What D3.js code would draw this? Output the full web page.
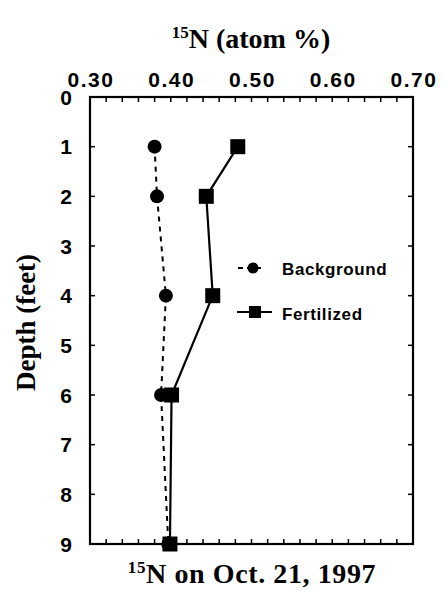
<!DOCTYPE html>
<html>
<head>
<meta charset="utf-8">
<script src="https://cdn.jsdelivr.net/npm/d3@7"></script>
<style>
  body { margin: 0; background: #fff; }
</style>
</head>
<body>
<script>
// depths in feet, 15N atom %
const depths = [1, 2, 4, 6, 9];
const background = [0.380, 0.383, 0.394, 0.388, 0.397];
const fertilized = [0.483, 0.444, 0.452, 0.401, 0.399];
const xTicks = [0.30, 0.40, 0.50, 0.60, 0.70];
const yTicks = [0, 1, 2, 3, 4, 5, 6, 7, 8, 9];

const w = 445, h = 597;
const pLeft = 90, pRight = 413, pTop = 97, pBottom = 544;

const svg = d3.select("body").append("svg").attr("width", w).attr("height", h);

const x = d3.scaleLinear().domain([0.30, 0.70]).range([pLeft, pRight]);
const y = d3.scaleLinear().domain([0, 9]).range([pTop, pBottom]);

// minor ticks on x (every 0.02), inside, top and bottom
const minor = d3.range(0, 21).map(i => 0.30 + i * 0.02);
const tickLayer = svg.append("g").attr("stroke", "#000").attr("stroke-width", 1.5);
minor.forEach(v => {
  tickLayer.append("line").attr("x1", x(v)).attr("x2", x(v)).attr("y1", pTop).attr("y2", pTop + 5);
  tickLayer.append("line").attr("x1", x(v)).attr("x2", x(v)).attr("y1", pBottom).attr("y2", pBottom - 5);
});
yTicks.forEach(v => {
  tickLayer.append("line").attr("x1", pLeft).attr("x2", pLeft + 5).attr("y1", y(v)).attr("y2", y(v));
  tickLayer.append("line").attr("x1", pRight).attr("x2", pRight - 5).attr("y1", y(v)).attr("y2", y(v));
});

svg.append("rect")
  .attr("x", pLeft).attr("y", pTop)
  .attr("width", pRight - pLeft).attr("height", pBottom - pTop)
  .attr("fill", "none").attr("stroke", "#000").attr("stroke-width", 2.2);

// tick labels
const sans = "Liberation Sans, Arial, sans-serif";
svg.append("g").selectAll("text").data(xTicks).enter().append("text")
  .attr("x", d => x(d) + 1).attr("y", 87)
  .attr("text-anchor", "middle")
  .style("font-family", sans).style("letter-spacing", "1.5px")
  .style("font-weight", "bold").style("font-size", "21px")
  .text(d => d.toFixed(2));

svg.append("g").selectAll("text").data(yTicks).enter().append("text")
  .attr("x", 72).attr("y", d => y(d) + 7.5)
  .attr("text-anchor", "end")
  .style("font-family", sans)
  .style("font-weight", "bold").style("font-size", "21px")
  .text(d => d);

// titles
const serif = "Liberation Serif, Times New Roman, serif";
const t1 = svg.append("text").attr("x", 251).attr("y", 48).attr("text-anchor", "middle")
  .style("font-family", serif).style("font-weight", "bold").style("font-size", "28px");
t1.append("tspan").attr("dy", -10).style("font-size", "17px").text("15");
t1.append("tspan").attr("dy", 10).text("N (atom %)");

const t2 = svg.append("text").attr("x", 252).attr("y", 583).attr("text-anchor", "middle")
  .style("font-family", serif).style("font-weight", "bold").style("font-size", "28px")
  .style("letter-spacing", "0.6px");
t2.append("tspan").attr("dy", -10).style("font-size", "17px").text("15");
t2.append("tspan").attr("dy", 10).text("N on Oct. 21, 1997");

svg.append("text")
  .attr("transform", "translate(35," + (y(4.5) + 2) + ") rotate(-90)")
  .attr("text-anchor", "middle")
  .style("font-family", serif).style("font-weight", "bold").style("font-size", "27px")
  .text("Depth (feet)");

// series
const bgData = depths.map((d, i) => [background[i], d]);
const feData = depths.map((d, i) => [fertilized[i], d]);
const line = d3.line().x(d => x(d[0])).y(d => y(d[1]));

svg.append("path").datum(bgData).attr("d", line)
  .attr("fill", "none").attr("stroke", "#000").attr("stroke-width", 2)
  .attr("stroke-dasharray", "5,5");
svg.append("path").datum(feData).attr("d", line)
  .attr("fill", "none").attr("stroke", "#000").attr("stroke-width", 2.2);

svg.append("g").selectAll("circle").data(bgData).enter().append("circle")
  .attr("cx", d => x(d[0])).attr("cy", d => y(d[1])).attr("r", 7).attr("fill", "#000");
svg.append("g").selectAll("rect").data(feData).enter().append("rect")
  .attr("x", d => x(d[0]) - 7.5).attr("y", d => y(d[1]) - 7.5)
  .attr("width", 15).attr("height", 15).attr("fill", "#000");

// legend
const lg = svg.append("g");
lg.append("line").attr("x1", 238).attr("x2", 265).attr("y1", 268).attr("y2", 268)
  .attr("stroke", "#000").attr("stroke-width", 2).attr("stroke-dasharray", "5,4");
lg.append("circle").attr("cx", 253).attr("cy", 268).attr("r", 5.5).attr("fill", "#000");
lg.append("line").attr("x1", 237).attr("x2", 272).attr("y1", 312).attr("y2", 312)
  .attr("stroke", "#000").attr("stroke-width", 2);
lg.append("rect").attr("x", 249).attr("y", 306).attr("width", 12).attr("height", 12).attr("fill", "#000");
lg.selectAll("text").data(["Background", "Fertilized"]).enter().append("text")
  .attr("x", 282).attr("y", (d, i) => 275 + i * 45)
  .style("font-family", sans).style("letter-spacing", "0.6px")
  .style("font-weight", "bold").style("font-size", "17px")
  .text(d => d);
</script>
</body>
</html>
